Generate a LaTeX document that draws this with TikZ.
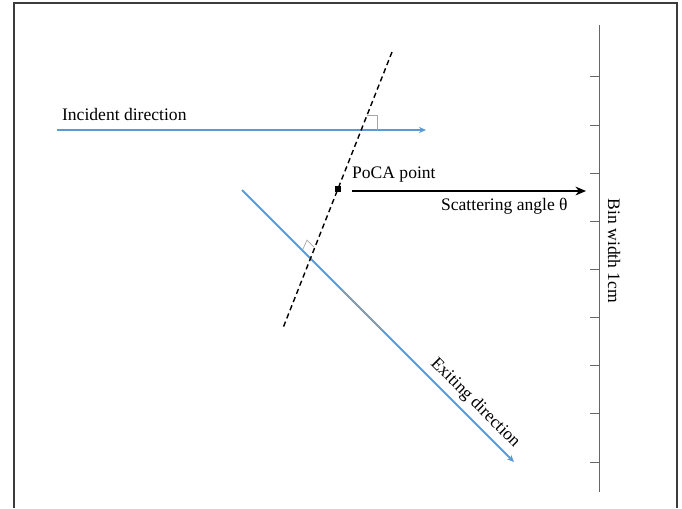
\documentclass[tikz,border=0pt]{standalone}
\usepackage{fontspec}
\setmainfont{Liberation Serif}
\usetikzlibrary{arrows.meta, positioning, calc}
\definecolor{rayblue}{RGB}{91,155,213}
\definecolor{framegray}{RGB}{60,60,60}

\begin{document}
\begin{tikzpicture}[x=0.02cm, y=-0.02cm,
            ray/.style={draw=rayblue, line width=1.1pt, -{Stealth[length=4pt, width=3.5pt]}},
            arrow/.style={-{Stealth[length=6pt, width=5pt]}, line width=0.6pt, black},
            txt/.style={font=\fontsize{10}{12}\selectfont, inner sep=1pt},
            perp/.style={dashed, dash pattern=on 3pt off 2pt, line width=0.8pt},
            rightangle/.style={gray!70, line width=0.4pt}
        ]
            \useasboundingbox (0,0) rectangle (682,508);
            \draw[framegray, line width=1pt] (14,508) -- (14,3) -- (677,3) -- (677,508);

            \coordinate (inA) at (57,130);
            \coordinate (inB) at (426,130);
            \coordinate (exA) at (242,190);
            \coordinate (exB) at (514,462);
            \coordinate (dTop) at (392,52);
            \coordinate (dBot) at (283,328);
            \node[rectangle, fill=black, minimum size=0.12cm, inner sep=0pt] (poca) at (338,189) {};
            \coordinate (scA) at (352,191);
            \coordinate (scB) at (586,191);
            \coordinate (axTop) at (599,25);
            \coordinate (axBot) at (599,492);

            \node[txt, anchor=west] (incident) at (60,114) {Incident direction};
            \node[txt, anchor=west] (pocalabel) at (350,175) {PoCA point};
            \node[txt, anchor=west] (scatter) at (439,206) {Scattering angle θ};
            \node[txt, rotate=-90] (binwidth) at (614,251) {Bin width 1cm};
            \node[txt, rotate=-45] (exiting) at (475,403) {Exiting direction};

            \draw[ray] (inA) -- (inB);
            \draw[ray] (exA) -- (exB);
            \draw[gray!80, line width=0.7pt] (342,290) -- (382,330);
            \draw[perp] (dTop) -- (dBot);
            \draw[arrow] (scA) -- (scB);

            \draw[rightangle] (367,115) -- (377,115) -- (377,130);
            \draw[rightangle] (303,249) -- (307,240) -- (314,247);

            \draw[gray!80!black, line width=0.5pt] (axTop) -- (axBot);
            \foreach \y in {76,125,173,221,269,317,365,413,462}
                \draw[gray!80!black, line width=0.5pt] (590,\y) -- (599,\y);
        \end{tikzpicture}
\end{document}
